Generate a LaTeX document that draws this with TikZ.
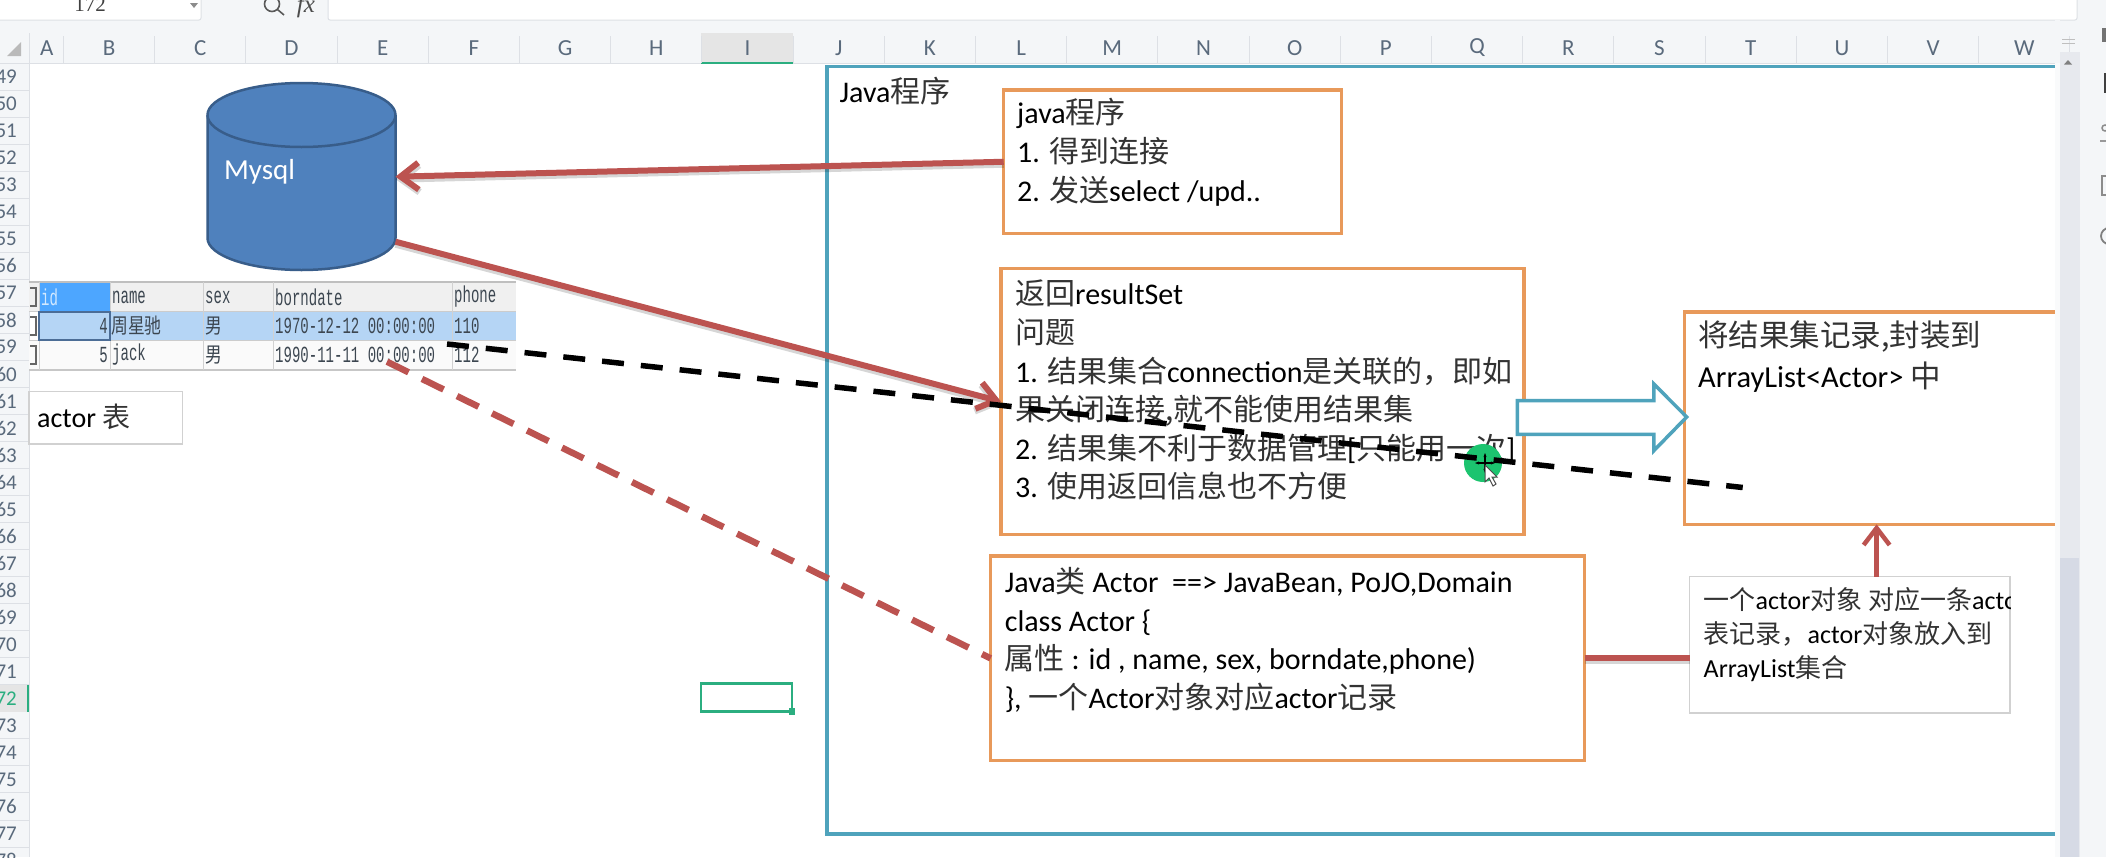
\documentclass[tikz,border=0pt]{standalone}
\usepackage{fontspec}
\setmainfont{Carlito}
\newfontfamily\cjk{Noto Sans CJK SC}
\newfontfamily\tblfont[FakeStretch=0.61]{Liberation Mono}
\newfontfamily\cjkn[FakeStretch=0.8]{Noto Sans CJK SC}
\newfontfamily\serifn{Liberation Serif}
\usetikzlibrary{arrows.meta,calc}
\newcommand{\zh}[1]{{\cjk\color{zhgray}#1}}
\definecolor{zhgray}{HTML}{333333}
\definecolor{redline}{HTML}{BC5350}
\definecolor{tealline}{HTML}{4FA3BC}
\definecolor{orangeline}{HTML}{E8995A}
\definecolor{dbfill}{HTML}{4F81BD}
\definecolor{dbline}{HTML}{385D8A}
\definecolor{chrome}{HTML}{F4F6F8}
\definecolor{chromeline}{HTML}{DDE0E5}
\definecolor{hdrtext}{HTML}{5A6A7C}
\definecolor{cellgreen}{HTML}{2BAE80}
\definecolor{cursorgreen}{HTML}{1CC46F}
\definecolor{scrollbg}{HTML}{E7E9EE}
\definecolor{scrollthumb}{HTML}{D6DAE5}
\definecolor{tblhead}{HTML}{F0F0F0}
\definecolor{tblsel}{HTML}{B5D5F5}
\definecolor{tblblue}{HTML}{4DA6FF}
\definecolor{tbltext}{HTML}{3C4650}
\tikzset{
  box/.style={draw=orangeline,line width=3.5pt,fill=white,rectangle,inner sep=0pt,outer sep=0pt,anchor=north west},
  plainbox/.style={draw=black!18,line width=1.5pt,fill=white,rectangle,inner sep=0pt,outer sep=0pt,anchor=north west},
  frame/.style={draw=tealline,line width=3.5pt,rectangle,inner sep=0pt,outer sep=0pt,anchor=north west},
  body/.style={anchor=north west,inner sep=0pt,align=left,font=\fontsize{30}{38.6}\selectfont},
  softshadow/.style={preaction={draw=black,draw opacity=.16,line width=#1,transform canvas={yshift=-2.5pt}}},
  redarrow/.style={draw=redline,line width=6pt,softshadow=7pt,-{Straight Barb[length=18pt,width=27pt]}},
  coltxt/.style={font=\fontsize{23}{23}\selectfont,text=hdrtext,inner sep=0pt},
  rowtxt/.style={font=\fontsize{21}{21}\selectfont,text=hdrtext,inner sep=0pt,anchor=east},
  cell/.style={font=\tblfont\fontsize{23}{23}\selectfont,text=tbltext,inner sep=0pt,anchor=west},
  cellzh/.style={font=\cjkn\fontsize{21}{21}\selectfont,text=tbltext,inner sep=0pt,anchor=west},
}
\begin{document}
\begin{tikzpicture}[x=1pt,y=-1pt]
\useasboundingbox (0,0) rectangle (2106,857);
% sheet background and chrome
\fill[white] (0,0) rectangle (2106,857);
\fill[chrome] (0,0) rectangle (2106,63);
\fill[chrome] (0,63) rectangle (29,857);
\fill[white,draw=chromeline,line width=1pt,rounded corners=2pt] (-5,-5) rectangle (201,20);
\fill[white,draw=chromeline,line width=1pt,rounded corners=2pt] (328,-5) rectangle (2077,20);
\node (namebox) [font=\serifn\fontsize{21}{21}\selectfont,text=black!75,inner sep=0pt] at (90,5) {172};
\fill[black!45] (190,3) -- (198,3) -- (194,8) -- cycle;
\draw[black!65,line width=1.6pt] (272,4) circle (7.5);
\draw[black!65,line width=1.6pt] (277.5,9.5) -- (284,15);
\node (fxlabel) [font=\serifn\itshape\fontsize{25}{25}\selectfont,text=black!70,inner sep=0pt] at (306,6) {fx};
\fill[black!27] (21,42) -- (21,56) -- (7,56) -- cycle;
\draw[chromeline,line width=1pt] (0,63) -- (2055,63);
\draw[chromeline,line width=1pt] (29,33) -- (29,857);
% selected column
\fill[black!10] (701,33) rectangle (792.5,62);
\draw[cellgreen,line width=2pt] (701,62.5) -- (792.5,62.5);
% column headings
\foreach \k in {0,...,22}{\draw[chromeline,line width=1pt] ({63.5+91.2*\k},36) -- ({63.5+91.2*\k},63);}
\node (colA) [coltxt] at (46.8,48) {A};
\foreach \l [count=\k from 0] in {B,C,D,E,F,G,H,I,J,K,L,M,N,O,P,Q,R,S,T,U,V,W}{
  \node (col\l) [coltxt] at ({109.1+91.2*\k},48) {\l};
}
% row headings
\foreach \r [count=\k from 0] in {49,...,78}{
  \draw[chromeline,line width=1pt] (0,{90.2+27.03*\k}) -- (29,{90.2+27.03*\k});
  \ifnum\r=72\relax\else
  \node (row\r) [rowtxt] at (17,{76.7+27.03*\k}) {\r};
  \fi
}
\fill[black!10] (0,684.8) rectangle (28,712);
\node (row72) [rowtxt,text=cellgreen] at (17,698.4) {72};
\draw[cellgreen,line width=2pt] (28,684.8) -- (28,712);
% active cell
\node (activecell) [draw=cellgreen,line width=2.5pt,rectangle,inner sep=0pt,outer sep=0pt,anchor=north west,minimum width=91pt,minimum height=28pt] at (701,683.5) {};
\fill[cellgreen] (789,708) rectangle (795,715);
% pasted table
\fill[tblhead] (29,282) rectangle (515.5,311.7);
\fill[tblsel] (39,311.7) rectangle (515.5,340);
\fill[black!2] (29,340) rectangle (515.5,370);
\fill[tblblue] (39,282) rectangle (110,311.7);
\draw[black!25,line width=1.5pt] (29,282) -- (515.5,282);
\draw[black!22,line width=1.5pt] (29,370) -- (515.5,370);
\draw[black!20,line width=1pt] (29,311.7) -- (515.5,311.7);
\draw[black!20,line width=1pt] (29,340) -- (515.5,340);
\foreach \cx in {39,110,203,273,452}{\draw[black!18,line width=1pt] (\cx,282) -- (\cx,370);}
\draw[dbline!90,line width=1.6pt] (39,311.7) rectangle (110,340);
\foreach \cy in {297,326,355}{\draw[black!60,line width=1.4pt] (30,\cy-9) -- (36,\cy-9) -- (36,\cy+9) -- (30,\cy+9);}
\node (hid) [cell,text=white!75!tblblue] at (41,297) {id};
\node (hname) [cell] at (112,297) {name};
\node (hsex) [cell] at (205,297) {sex};
\node (hdate) [cell] at (275,297) {borndate};
\node (hphone) [cell] at (454,297) {phone};
\node (id4) [cell,anchor=east] at (108,326) {4};
\node (name4) [cellzh] at (111,326) {周星驰};
\node (sex4) [cellzh] at (205,326) {男};
\node (date4) [cell] at (275,326) {1970-12-12 00:00:00};
\node (phone4) [cell] at (454,326) {110};
\node (id5) [cell,anchor=east] at (108,355) {5};
\node (name5) [cell] at (112,355) {jack};
\node (sex5) [cellzh] at (205,355) {男};
\node (date5) [cell] at (275,355) {1990-11-11 00:00:00};
\node (phone5) [cell] at (454,355) {112};
\coordinate (tblphone) at (447,344);
\coordinate (tbldate) at (387,361.7);
% actor label
\node (actorbox) [plainbox,minimum width=153.5pt,minimum height=52.3pt] at (29,391.7) {};
\node (actorlabel) [anchor=west,inner sep=0pt,font=\fontsize{28}{28}\selectfont] at (37,416.7) {actor \zh{表}};
% database
\fill[dbfill] (207.5,115) -- (207.5,238) arc[start angle=180,end angle=360,x radius=94pt,y radius=32pt] -- (395.5,115) arc[start angle=0,end angle=180,x radius=94pt,y radius=32pt] -- cycle;
\draw[dbline,line width=2.5pt] (207.5,115) -- (207.5,238) arc[start angle=180,end angle=360,x radius=94pt,y radius=32pt] -- (395.5,115) arc[start angle=0,end angle=180,x radius=94pt,y radius=32pt] -- cycle;
\draw[dbline,line width=2.5pt] (207.5,115) arc[start angle=180,end angle=360,x radius=94pt,y radius=32pt];
\node (mysql) [anchor=west,inner sep=0pt,text=white,font=\fontsize{29}{29}\selectfont] at (224,172) {Mysql};
\coordinate (dbin) at (395.5,176.7);
\coordinate (dbout) at (395.5,241.7);
% outer frame and boxes
\node (outer) [frame,minimum width=1250pt,minimum height=767.5pt] at (827,66.5) {};
\node (javalabel) [anchor=west,inner sep=0pt,font=\fontsize{30}{30}\selectfont] at (839.4,91) {Java\zh{程序}};
\node (javabox) [box,minimum width=337.8pt,minimum height=143.5pt] at (1003.7,90) {};
\node (javatext) [body] at (1017,96.7) {\strut java\zh{程序}\\ \strut 1. \zh{得到连接}\\ \strut 2. \zh{发送}select /upd..};
\node (resultbox) [box,minimum width=523pt,minimum height=266pt] at (1001,268.6) {};
\node (resulttext) [body] at (1015,277.7) {\strut\zh{返回}resultSet\\ \strut\zh{问题}\\ \strut 1. \zh{结果集合}connection\zh{是关联的，即如}\\ \strut\zh{果关闭连接}\zh{,}\zh{就不能使用结果集}\\ \strut 2. \zh{结果集不利于数据管理}[\zh{只能用一次}]\\ \strut 3. \zh{使用返回信息也不方便}};
\node (beanbox) [box,minimum width=594pt,minimum height=204.7pt] at (990.6,556) {};
\node (beantext) [body] at (1004.6,565.4) {\strut Java\zh{类} Actor\ \ ==> JavaBean, PoJO,Domain\\ \strut class Actor \{\\ \strut\zh{属性} : id , name, sex, borndate,phone)\\ \strut\}, \zh{一个}Actor\zh{对象对应}actor\zh{记录}};
\node (listbox) [box,minimum width=390pt,minimum height=212.5pt] at (1684.4,311.8) {};
\node (listtext) [body,font=\fontsize{30.5}{41}\selectfont] at (1698,317.4) {\strut\zh{将结果集记录,封装到}\\ \strut ArrayList<Actor> \zh{中}};
\node (notebox) [plainbox,minimum width=320.4pt,minimum height=136.3pt] at (1689.6,576.7) {};
\begin{scope}
\clip (1689.6,576.7) rectangle (2010,713);
\node (notetext) [body,font=\fontsize{26}{34}\selectfont] at (1703.5,585) {\strut\zh{一个}actor\zh{对象 对应一条}actor\\ \strut\zh{表记录，}actor\zh{对象放入到}\\ \strut ArrayList\zh{集合}};
\end{scope}
% connectors
\draw[redarrow] (javabox.west) -- (dbin);
\draw[redarrow] (dbout) -- (resultbox.west);
\draw[redline,line width=6.5pt,dash pattern=on 24pt off 15pt] (tbldate) -- (beanbox.west);
\draw[redline,line width=6pt,softshadow=7pt] (beanbox.east) -- (beanbox.east -| notebox.west);
\coordinate (upfrom) at (1876.6,576.7);
\coordinate (upto) at (1876.6,524.3);
\draw[draw=redline,line width=4.5pt,-{Straight Barb[length=17pt,width=26pt]}] (upfrom) -- (upto);
% block arrow
\draw[tealline,line width=3.5pt,fill=white,miter limit=4] (1517.4,400.7) -- (1653.8,400.7) -- (1653.8,384) -- (1686.7,417) -- (1653.8,450.7) -- (1653.8,434.3) -- (1517.4,434.3) -- cycle;
% green pointer halo, dashed line, cursor
\fill[cursorgreen] (1483,463) circle (19);
\coordinate (dashend) at (1742.7,487.5);
\draw[black,line width=5.5pt,dash pattern=on 22pt off 17pt] (tblphone) -- (dashend);
\draw[black,line width=1.8pt,{Stealth[length=4pt]}-{Stealth[length=4pt]}] (1475,463) -- (1495,463);
\draw[black,line width=1.8pt,{Stealth[length=4pt]}-{Stealth[length=4pt]}] (1485,453) -- (1485,473);
\draw[black!70,fill=white,line width=1pt] (1485,465) -- (1485,482) -- (1489,478) -- (1493,486) -- (1496,484) -- (1492,477) -- (1497,477) -- cycle;
% scrollbar and side panel
\fill[white!50!chrome] (2055,63) rectangle (2060,857);
\fill[chrome] (2055,20) rectangle (2060,63);
\fill[scrollbg] (2060,52) rectangle (2080,857);
\fill[scrollthumb] (2060,558) rectangle (2079,857);
\fill[chrome] (2080,0) rectangle (2106,857);
\fill[black!50] (2064,64.5) -- (2072,64.5) -- (2068,60) -- cycle;
\draw[black!25,line width=1pt] (2062,39) -- (2075,39) (2062,43) -- (2075,43);
\fill[black!55] (2102,28) rectangle (2106,42);
\fill[black!75] (2103.5,73) rectangle (2106,93);
\draw[black!45,line width=1.5pt] (2105,128) circle (3);
\draw[black!40,line width=1.5pt] (2100,141) -- (2106,141);
\draw[black!45,line width=1.5pt] (2102,176) rectangle (2108,195);
\draw[black!50,line width=1.8pt] (2109,236) circle (8);
\end{tikzpicture}
\end{document}
